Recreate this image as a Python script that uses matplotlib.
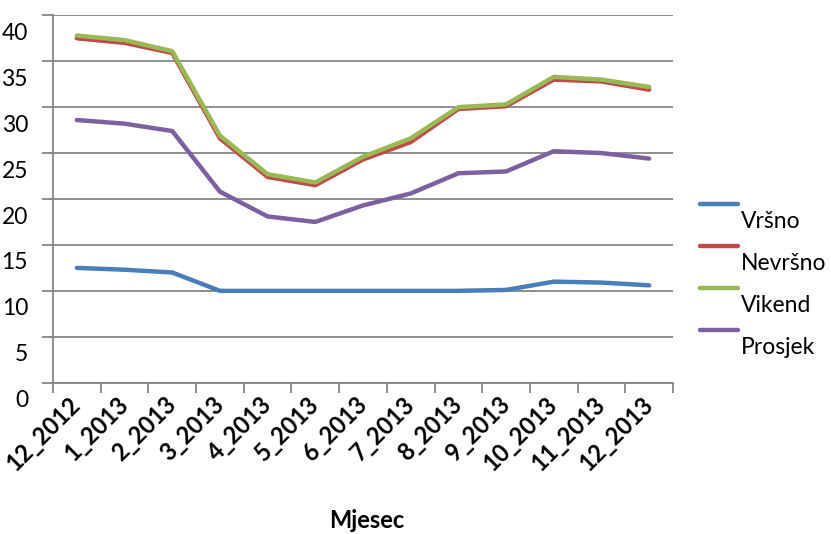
import matplotlib
matplotlib.use("Agg")
from matplotlib import pyplot as plt
from matplotlib.lines import Line2D
from matplotlib.transforms import ScaledTranslation
import numpy as np

plt.rcParams['font.family'] = ['Lato', 'DejaVu Sans']

mjeseci = ["12_2012", "1_2013", "2_2013", "3_2013", "4_2013", "5_2013", "6_2013",
           "7_2013", "8_2013", "9_2013", "10_2013", "11_2013", "12_2013"]
vrsno = [12.5, 12.3, 12.0, 10.0, 10.0, 10.0, 10.0, 10.0, 10.0, 10.1, 11.0, 10.9, 10.6]
nevrsno = [37.5, 37.0, 35.9, 26.6, 22.4, 21.5, 24.3, 26.2, 29.8, 30.1, 33.0, 32.8, 31.9]
vikend = [37.8, 37.3, 36.1, 26.9, 22.7, 21.8, 24.6, 26.6, 30.0, 30.3, 33.3, 33.0, 32.2]
prosjek = [28.6, 28.2, 27.4, 20.8, 18.1, 17.5, 19.3, 20.6, 22.8, 23.0, 25.2, 25.0, 24.4]

serije = [("Vršno", vrsno, "#4A7EBB"),
          ("Nevršno", nevrsno, "#BE4B48"),
          ("Vikend", vikend, "#98B954"),
          ("Prosjek", prosjek, "#7D60A0")]

W, H = 831, 534
fig = plt.figure(figsize=(W / 100, H / 100), dpi=100)
ax = fig.add_axes([53 / W, 1 - 382.7 / H, 620 / W, 367.4 / H])

x = np.arange(len(mjeseci))
for naziv, vrijednosti, boja in serije:
    ax.plot(x, vrijednosti, color=boja, lw=3.2, solid_capstyle='round',
            solid_joinstyle='round', clip_on=False, zorder=3)

grid_boja = "#868686"
ax.set_xlim(-0.5, len(mjeseci) - 0.5)
ax.set_ylim(0, 40)
ax.set_yticks(np.arange(0, 41, 5))
ax.yaxis.grid(True, color=grid_boja, lw=1.3)
ax.set_axisbelow(True)
for s in ["top", "right"]:
    ax.spines[s].set_visible(False)
for s in ["left", "bottom"]:
    ax.spines[s].set_color(grid_boja)
    ax.spines[s].set_linewidth(1.3)

# kategorije: oznake u sredini, crtice izmedju
ax.set_xticks(x)
ax.set_xticklabels(mjeseci, fontsize=17, fontweight='bold')
ax.set_xticks(np.arange(-0.5, len(mjeseci)), minor=True)
ax.tick_params(axis='x', which='major', length=0, pad=13)
ax.tick_params(axis='x', which='minor', length=7, width=1.3, color=grid_boja)
ax.tick_params(axis='y', length=8, width=1.3, color=grid_boja, pad=10, labelsize=16.5)
plt.setp(ax.get_xticklabels(), rotation=45, ha='right', va='center', rotation_mode='anchor')

pomak = ScaledTranslation(0, -0.16, fig.dpi_scale_trans)
for lbl in ax.get_yticklabels():
    lbl.set_transform(lbl.get_transform() + pomak)

fig.text(367 / W, 1 - 521 / H, "Mjesec", ha='center', va='center',
         fontsize=17, fontweight='bold')

# legenda
for i, (naziv, vrijednosti, boja) in enumerate(serije):
    y_lin = 204 + i * 42
    fig.add_artist(Line2D([700 / W, 738 / W], [1 - y_lin / H, 1 - y_lin / H],
                          color=boja, lw=3.2, solid_capstyle='round'))
    fig.text(741 / W, 1 - (y_lin + 18) / H, naziv, ha='left', va='center', fontsize=16.5)

fig.savefig("out.png", dpi=100)
